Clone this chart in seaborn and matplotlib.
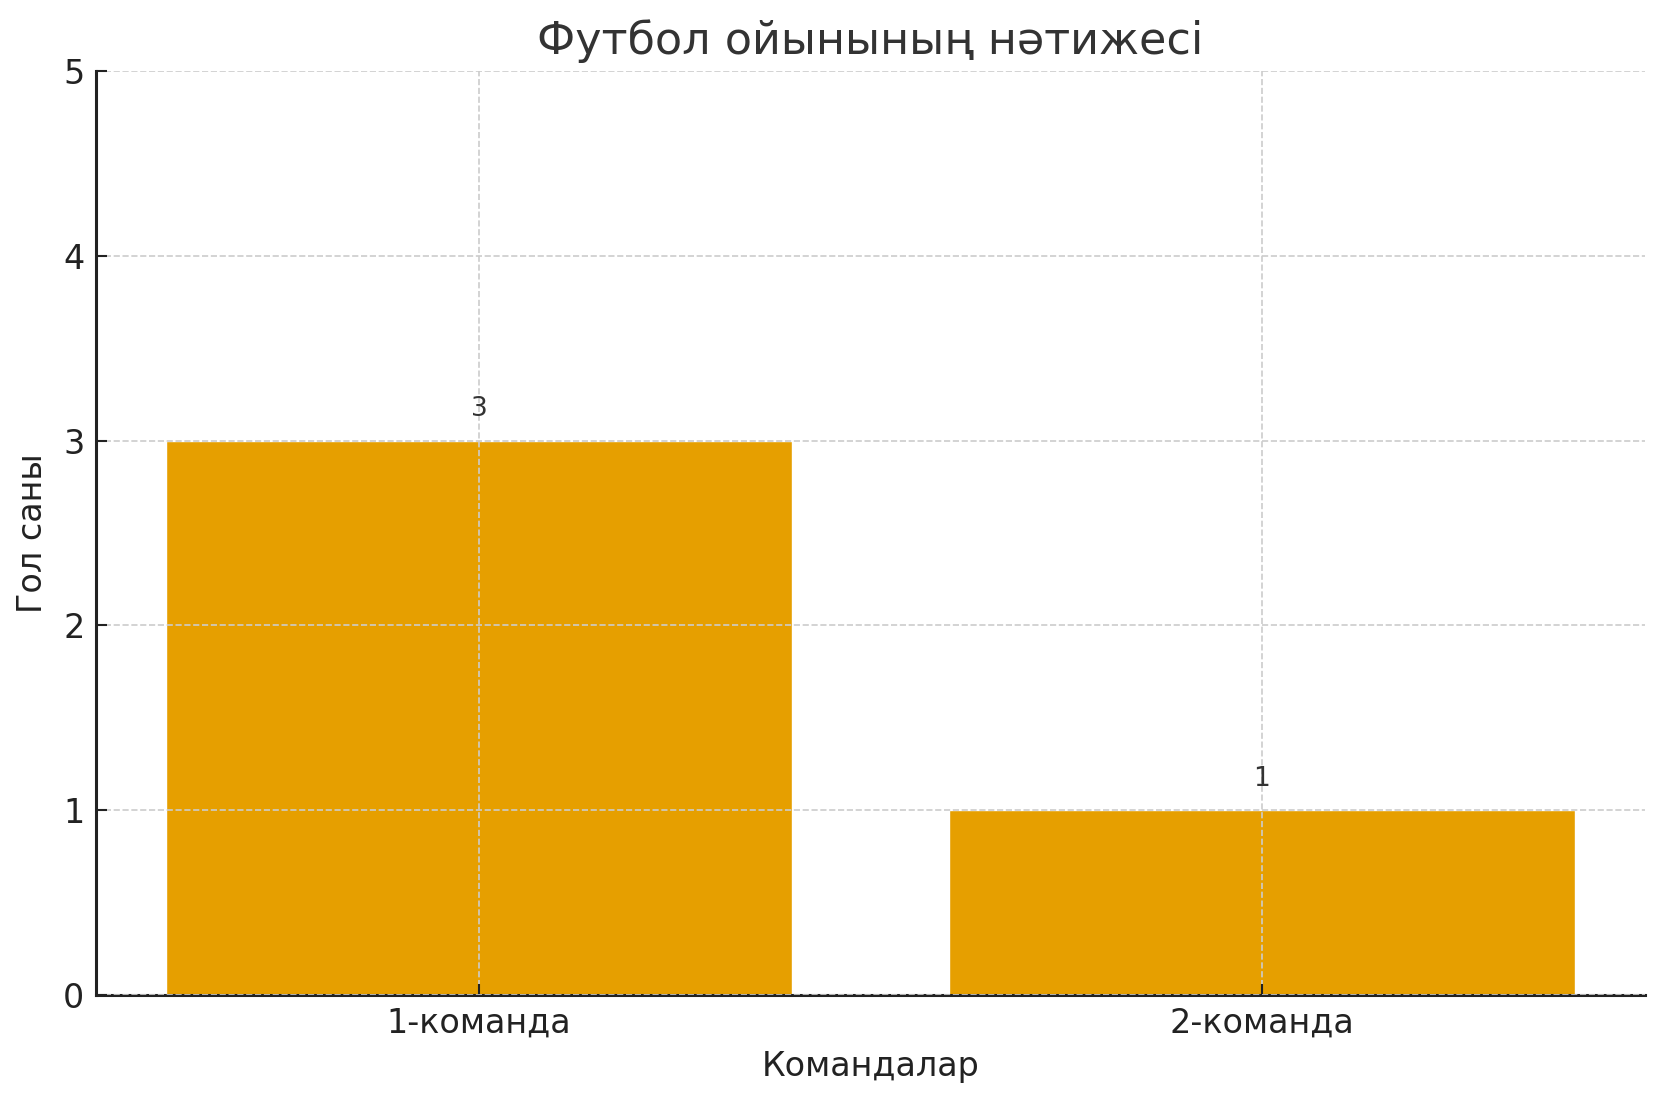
import matplotlib
matplotlib.use("Agg")
import matplotlib.pyplot as plt
import seaborn as sns
import pandas as pd

teams = ["1-команда", "2-команда"]
goals = [3, 1]

title = "Футбол ойынының нәтижесі"
xlabel = "Командалар"
ylabel = "Гол саны"

sns.set_theme(style="ticks")
plt.rcParams['font.family'] = ['DejaVu Sans']

df = pd.DataFrame({"team": teams, "goals": goals})

fig = plt.figure(figsize=(16.65, 11.02), dpi=100)
ax = fig.add_axes([95.6/1665, 1 - 995/1102, (1645-95.6)/1665, (995-71)/1102])

sns.barplot(data=df, x="team", y="goals", color="#E69F00", saturation=1,
            width=0.8, ax=ax, zorder=2)

for i, v in enumerate(goals):
    ax.text(i, v + 0.1, str(v), ha="center", va="bottom", fontsize=19, color="#333333")

ax.set_ylim(0, 5)
ax.set_xlim(-0.49, 1.49)
ax.set_yticks([0, 1, 2, 3, 4, 5])
ax.set_title(title, fontsize=32, color="#333333", pad=12)
ax.set_xlabel(xlabel, fontsize=24, color="#222222", labelpad=8)
ax.set_ylabel(ylabel, fontsize=24, color="#222222", labelpad=10)
ax.tick_params(axis="both", direction="in", length=8, width=1.5, labelsize=24,
               colors="#222222", pad=8)
ax.grid(True, linestyle="--", color="#cccccc", linewidth=1.2, zorder=3)
ax.set_axisbelow(False)
for s in ["top", "right"]:
    ax.spines[s].set_visible(False)
for s in ["left", "bottom"]:
    ax.spines[s].set_linewidth(2.2)
    ax.spines[s].set_color("#222222")

fig.savefig("out.png", dpi=100)
